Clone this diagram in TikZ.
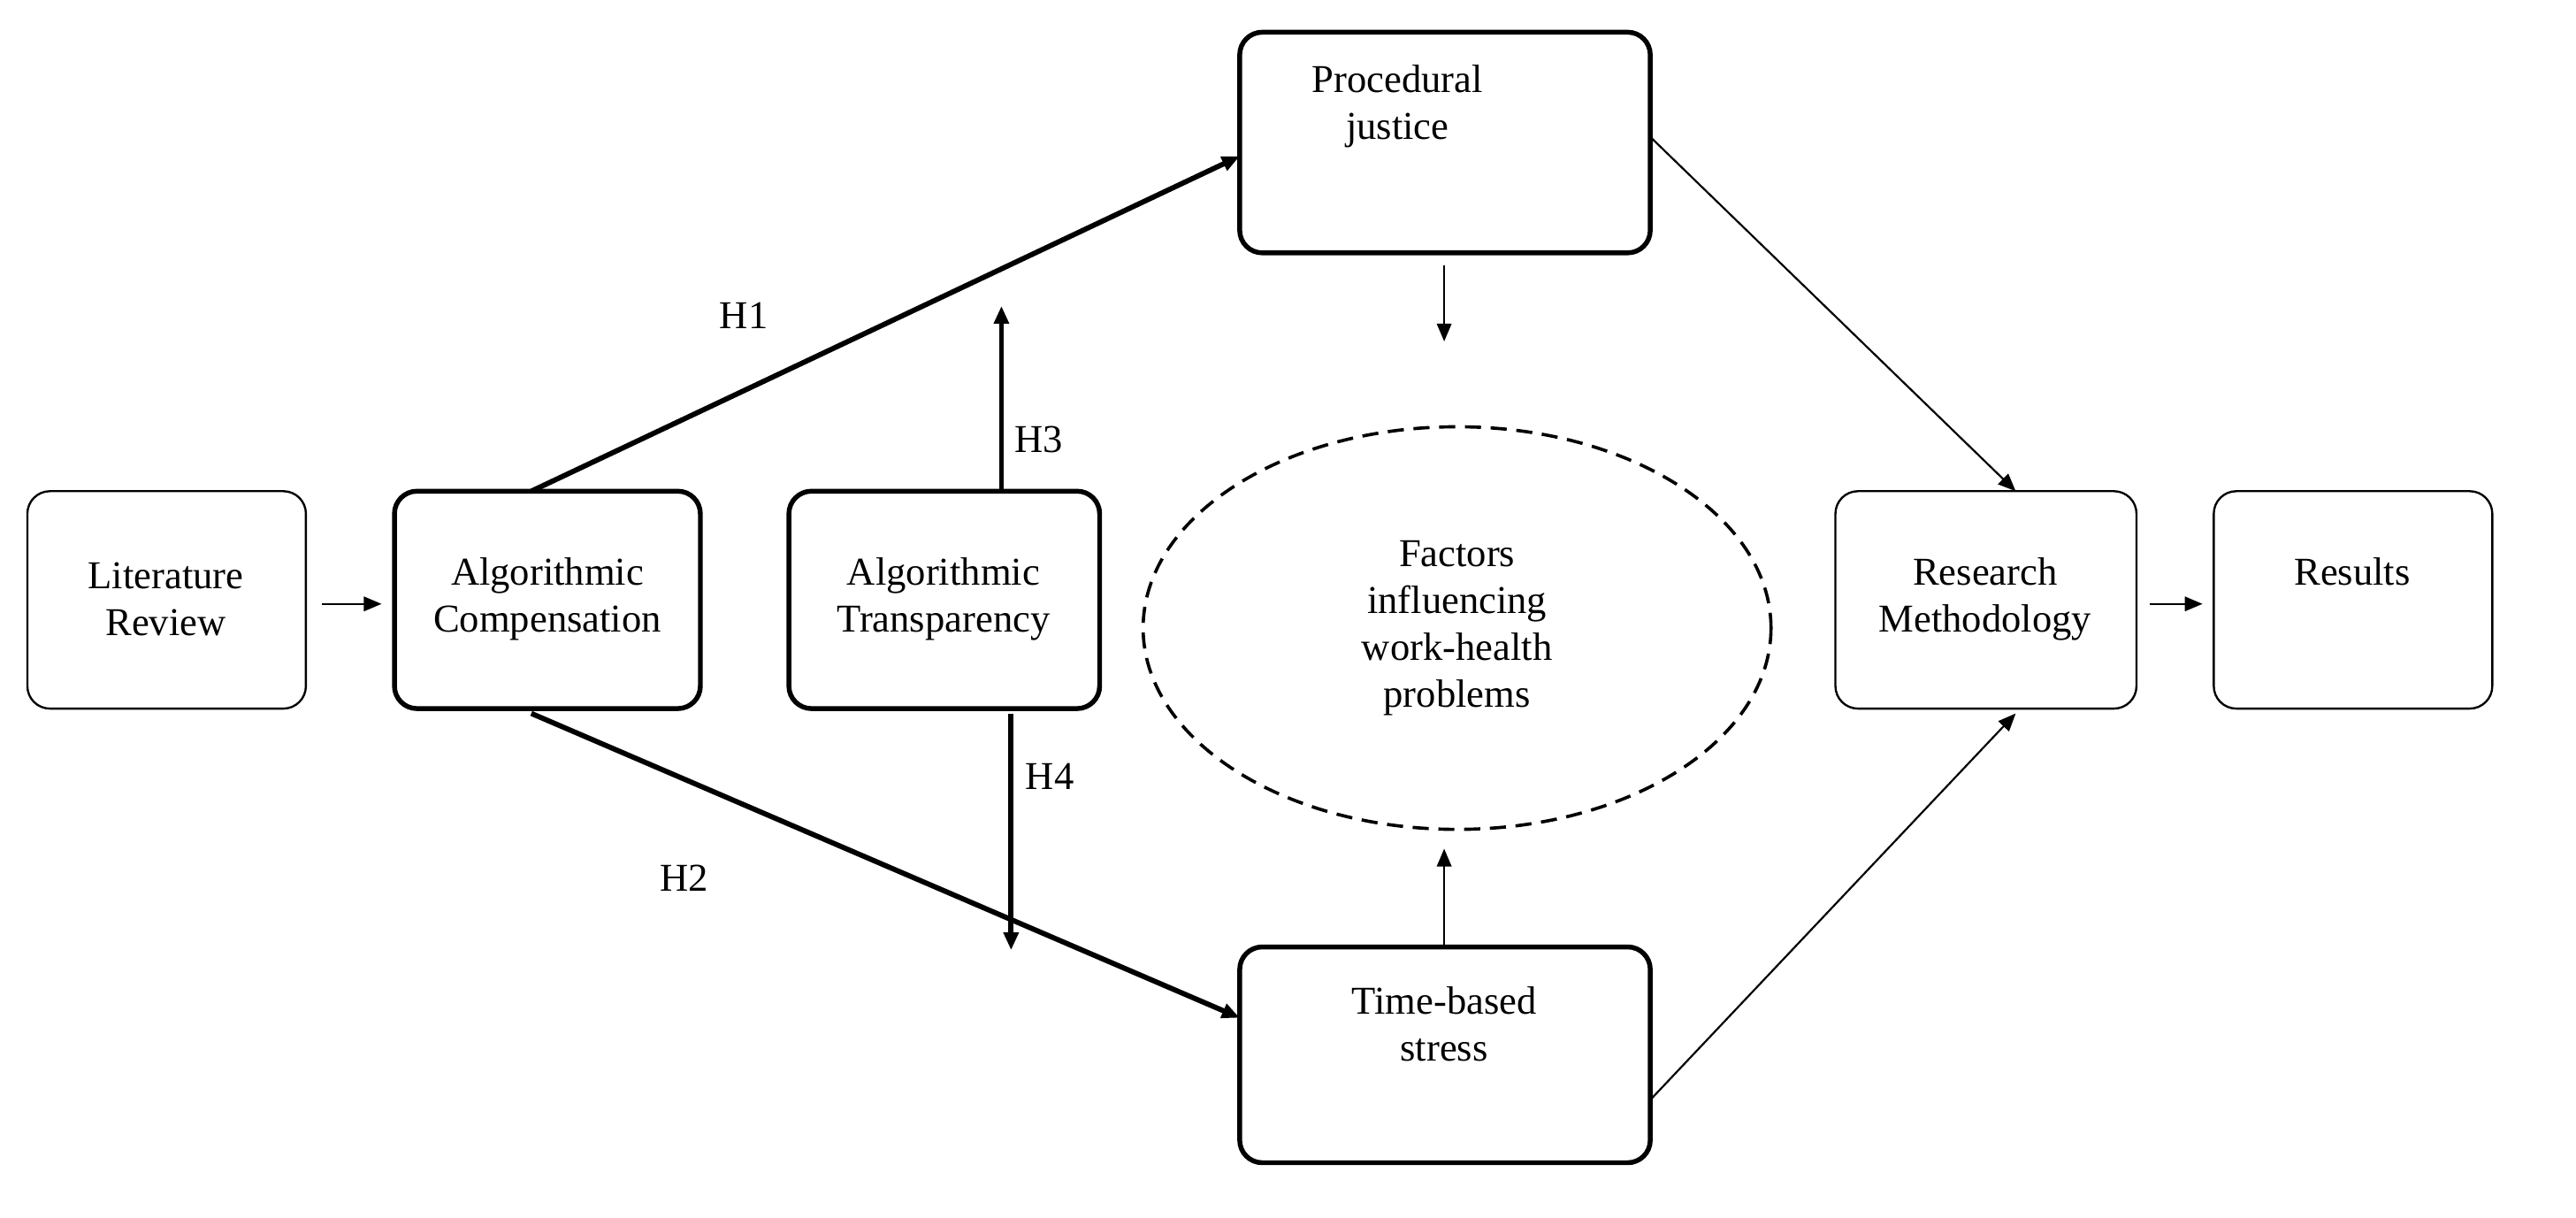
\documentclass[tikz,border=0pt]{standalone}
\usepackage{fontspec}
\setmainfont{Liberation Serif}
\usetikzlibrary{arrows.meta}
\begin{document}
\begin{tikzpicture}[x=1pt,y=-1pt,
 box/.style={draw,rounded corners=14pt,line width=1.3pt,minimum width=0pt},
 tbox/.style={box,line width=3pt},
 lab/.style={font=\fontsize{24.5}{29}\selectfont,align=center},
 arr/.style={-{Triangle[length=11pt,width=9pt]},line width=1.2pt},
 tarr/.style={arr,line width=3.2pt},
 every node/.style={lab}]
\useasboundingbox (0,0) rectangle (1600,756);
\draw[box] (17,305) rectangle (190,440);
\node (lr) at (103,372) {Literature\\Review};
\draw[tbox] (245,305) rectangle (435,440);
\node (ac) at (340,372) {Algorithmic\\Compensation};
\draw[tbox] (490,305) rectangle (683,440);
\node (at) at (586,372) {Algorithmic\\Transparency};
\draw[tbox] (770,20) rectangle (1025,157);
\node (pj) at (868,66) {Procedural\\justice};
\draw[tbox] (770,588) rectangle (1025,722);
\node (ts) at (897,636) {Time-based\\stress};
\draw[box] (1140,305) rectangle (1327,440);
\node (rm) at (1233,372) {Research\\Methodology};
\draw[box] (1375,305) rectangle (1548,440);
\node (rs) at (1461,355) {Results};
\draw[dash pattern=on 10pt off 6pt,line width=2pt] (905,390) ellipse [x radius=195, y radius=125];
\node (f) at (905,390) {Factors\\influencing\\work-health\\problems};
\coordinate (acT) at (330,305); \coordinate (acB) at (330,443);
\coordinate (pjL) at (770,97); \coordinate (tsL) at (770,632);
\draw[arr] (200,375) -- (237,375);
\draw[tarr] (acT) -- (pjL);
\draw[tarr] (acB) -- (tsL);
\node at (462,196) {H1};
\node at (425,545) {H2};
\coordinate (up1) at (622,305); \coordinate (up2) at (622,190);
\draw[tarr] (up1) -- (up2);
\node at (645,273) {H3};
\coordinate (dn1) at (628,443); \coordinate (dn2) at (628,590);
\draw[tarr] (dn1) -- (dn2);
\node at (652,482) {H4};
\draw[arr] (897,165) -- (897,212);
\draw[arr] (897,588) -- (897,527);
\coordinate (pjR) at (1025,85); \coordinate (rmT) at (1252,305);
\coordinate (tsR) at (1025,683); \coordinate (rmB) at (1252,443);
\draw[arr] (pjR) -- (rmT);
\draw[arr] (tsR) -- (rmB);
\draw[arr] (1335,375) -- (1368,375);
\end{tikzpicture}
\end{document}
